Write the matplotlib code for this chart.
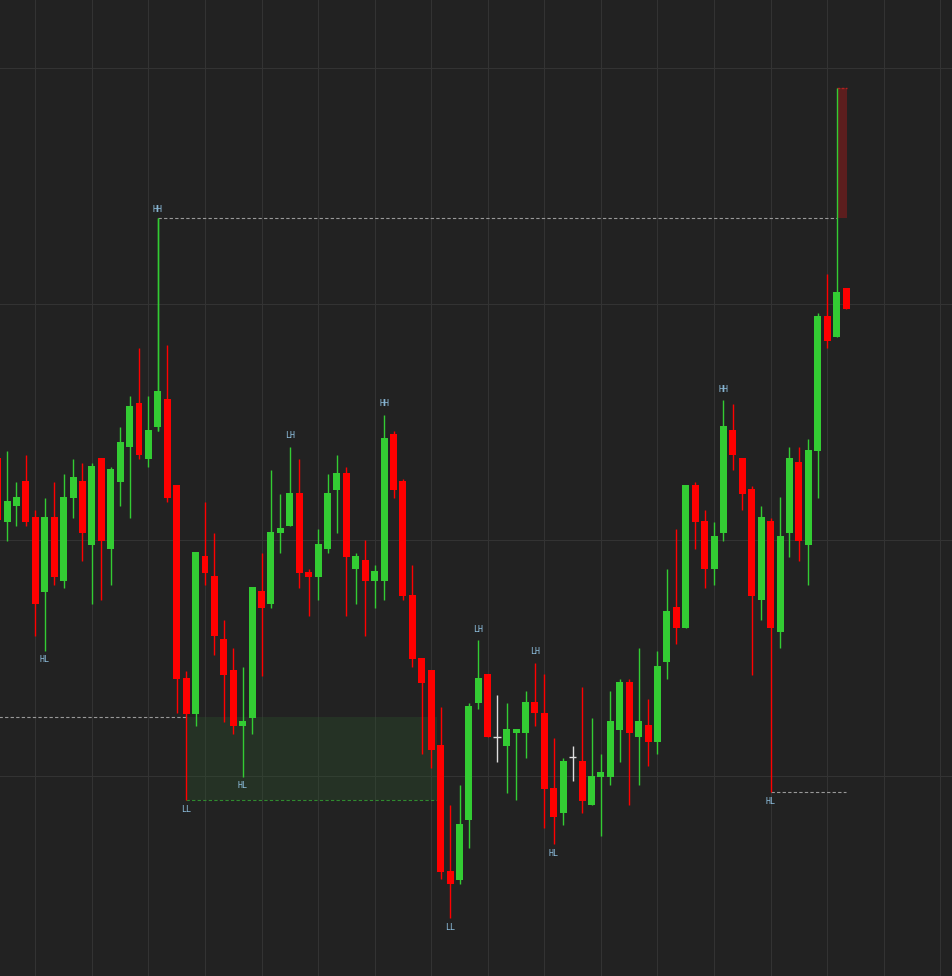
import matplotlib
matplotlib.use("Agg")
import matplotlib.pyplot as plt
from matplotlib.patches import Rectangle

# Price values expressed on the chart's vertical scale (axis inverted: smaller = higher)
opens = [458,522,506,481,517,592,517,581,498,481,545,458,549,482,447,403,459,427,399,485,
         678,714,556,576,639,670,726,718,591,604,533,526,493,572,577,549,490,473,569,560,
         581,581,434,481,595,658,670,745,871,880,820,703,674,737,746,733,733,702,713,788,
         813,757,761,805,777,777,730,682,737,725,742,662,607,628,485,521,569,533,430,458,
         489,600,521,632,533,462,545,451,316,337,288]
highs = [455,451,482,455,510,498,482,474,459,463,463,458,467,427,396,348,396,218,345,485,
         671,552,502,533,620,648,667,587,553,470,494,447,459,569,529,474,455,467,553,540,
         565,415,431,479,565,658,670,707,805,785,703,640,674,695,703,729,691,663,674,738,
         758,746,687,718,754,691,679,679,648,699,651,569,529,485,482,510,522,400,404,458,
         486,506,518,497,447,447,439,313,274,88,288]
lows = [540,541,526,526,636,651,585,588,518,561,604,600,585,506,518,459,467,431,502,713,
        800,726,585,655,722,734,777,734,676,608,553,526,588,616,600,553,533,616,604,636,
        608,600,498,600,667,754,768,879,918,884,848,709,737,762,793,800,758,726,828,844,
        825,781,813,805,836,785,762,805,785,766,754,679,644,628,549,588,585,541,470,510,
        675,620,792,648,557,561,585,498,348,337,309]
closes = [520,501,497,522,604,517,577,497,477,533,466,541,469,442,406,455,430,391,498,679,
          714,552,573,636,675,726,721,587,608,532,528,493,573,577,544,493,473,557,556,581,
          571,438,490,596,659,683,750,872,884,824,706,678,737,737,729,729,702,713,789,817,
          761,757,801,776,772,721,682,733,721,742,666,611,628,485,522,569,536,426,455,494,
          596,517,628,536,458,541,450,316,341,292,309]

swing_labels = ["HH","HL","LL","HL","LH","HH","LH","LH","LL","HL","HH","HL"]
swing_index  = [17,5,20,26,31,41,51,57,48,59,77,82]
swing_price  = [209,660,810,786,436,404,629,652,928,853,389,802]

BG = "#222222"
GREEN = "#33cc33"
RED = "#ff0000"

fig = plt.figure(figsize=(9.52, 9.76), dpi=100, facecolor=BG)
ax = fig.add_axes([0, 0, 1, 1])
ax.set_facecolor(BG)
slope, icpt = 9.427, -2.4
ax.set_xlim((0 - icpt) / slope, (952 - icpt) / slope)
ax.set_ylim(976, 0)
for s in ax.spines.values():
    s.set_visible(False)
ax.set_xticks([])
ax.set_yticks([])

# grid
for i in range(4, 102, 6):
    ax.axvline(i, color="#333333", lw=0.8, zorder=0)
for y in [68, 304, 540, 776]:
    ax.axhline(y, color="#333333", lw=0.8, zorder=0)

w = 0.74
for i, (o, h, l, c) in enumerate(zip(opens, highs, lows, closes)):
    if o == c:
        col = "#dddddd"
        ax.vlines(i, h, l, color=col, lw=1, zorder=3)
        ax.hlines(o, i - 0.4, i + 0.4, color=col, lw=1, zorder=3)
        continue
    col = GREEN if c < o else RED
    ax.vlines(i, h, l, color=col, lw=1, zorder=3)
    ax.add_patch(Rectangle((i - w / 2, min(o, c)), w, abs(o - c), facecolor=col,
                           edgecolor="none", zorder=4))

# structure lines and zones
ax.hlines(218, 17, 89, colors="#999999", linestyles=(0, (3, 2)), lw=0.8, zorder=2)
ax.vlines(17, 218, 431, colors=GREEN, lw=1, zorder=3)
ax.add_patch(Rectangle((89, 88), 1.1, 130, facecolor="#5c1e1e",
                       edgecolor="none", zorder=2))
ax.hlines(88, 89, 90.1, colors="#b02020", linestyles=(0, (2, 1)), lw=1, zorder=2)
ax.hlines(717, 0, 20, colors="#999999", linestyles=(0, (3, 2)), lw=0.8, zorder=2)
ax.add_patch(Rectangle((20, 717), 26.6, 83, facecolor="#2f5a2f", alpha=0.3,
                       edgecolor="none", zorder=1))
ax.hlines(800, 20, 46.6, colors="#2f8a2f", linestyles=(0, (3, 2)), lw=0.8, zorder=2)
ax.hlines(792, 82, 90, colors="#999999", linestyles=(0, (3, 2)), lw=0.8, zorder=2)

for t, i, p in zip(swing_labels, swing_index, swing_price):
    ax.text(i, p, t, color="#8fc0e0", fontsize=6, family="DejaVu Sans Mono",
            ha="center", va="center", zorder=5)

fig.savefig("out.png", dpi=100, facecolor=BG)
